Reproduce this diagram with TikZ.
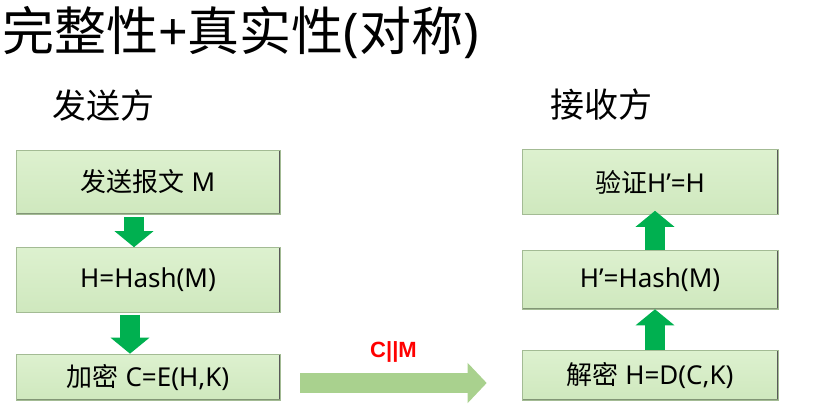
\documentclass[tikz,border=0pt]{standalone}
\usepackage{fontspec}
\setmainfont{Noto Sans}
\newfontfamily\cjk{Noto Sans CJK SC}
\newfontfamily\lat{Liberation Sans}
\usetikzlibrary{positioning, arrows.meta, calc}
\definecolor{boxtop}{HTML}{DDF1CF}
\definecolor{boxbot}{HTML}{CFE8BE}
\definecolor{boxedge}{HTML}{A3BB94}
\definecolor{stepgreen}{HTML}{00B050}
\definecolor{sendgreen}{HTML}{A9D18E}
\definecolor{labelred}{HTML}{FF0000}

\begin{document}
\begin{tikzpicture}[node distance={98pt}, x=1pt, y=1pt]
    \tikzstyle{box} = [draw=boxedge, line width=0.6pt, top color=boxtop, bottom color=boxbot, font=\fontsize{26}{30}\selectfont, inner sep=0pt,
        path picture={\draw[black!65, line width=2.4pt] (path picture bounding box.north east) -- (path picture bounding box.south east);
                      \draw[boxedge!80!black, line width=1.6pt] (path picture bounding box.south east) -- (path picture bounding box.south west);}]
    \tikzstyle{flow} = [stepgreen, line width=20pt, -{Triangle[length=16pt, width=38pt]}]
    \tikzstyle{send} = [sendgreen, line width=20pt, -{Triangle[length=19pt, width=39pt]}]

    \useasboundingbox (0,0) rectangle (826,-417);

    % headings
    \node[anchor=west, inner sep=0pt, font=\fontsize{52}{58}\selectfont] (title) at (2,-33) {{\cjk 完整性}+{\cjk 真实性}({\cjk 对称})};
    \node[font=\fontsize{34}{40}\selectfont\cjk] (sender) at (103,-106) {发送方};
    \node[font=\fontsize{34}{40}\selectfont\cjk] (receiver) at (601,-105) {接收方};

    % sender side (top to bottom)
    \node[box, minimum width=264pt, minimum height=64pt] (s1) at (148,-182) {{\cjk 发送报文} M};
    \node[box, minimum width=264pt, minimum height=65pt] (s2) [below of=s1] {H=Hash(M)};
    \node[box, minimum width=264pt, minimum height=46pt] (s3) [below of=s2, yshift=1pt] {{\cjk 加密} C=E(H,K)};

    % receiver side (bottom to top)
    \node[box, minimum width=256pt, minimum height=65pt] (r1) [right of=s1, xshift=404pt] {{\cjk 验证}H’=H};
    \node[box, minimum width=256pt, minimum height=59pt] (r2) [below of=r1, yshift=0.5pt] {H’=Hash(M)};
    \node[box, minimum width=256pt, minimum height=50pt] (r3) [below of=r2, yshift=2.5pt] {{\cjk 解密} H=D(C,K)};

    \draw[flow, shorten <=3pt] ([xshift=-14pt]s1.south) -- ([xshift=-14pt]s2.north);
    \draw[flow, shorten <=2pt] ([xshift=-18pt]s2.south) -- ([xshift=-18pt]s3.north);
    \draw[flow, shorten >=-4pt] ([xshift=5pt]r2.north) -- ([xshift=5pt]r1.south);
    \draw[flow] ([xshift=5pt]r3.north) -- ([xshift=5pt]r2.south);

    \draw[send] ($(s3.east)+(20,-6)$) -- ($(s3.east -| r3.west)+(-35,-6)$)
        node[midway, above=7pt, text=labelred, font=\fontsize{22}{26}\selectfont\lat\bfseries] (cm) {C||M};
\end{tikzpicture}
\end{document}
